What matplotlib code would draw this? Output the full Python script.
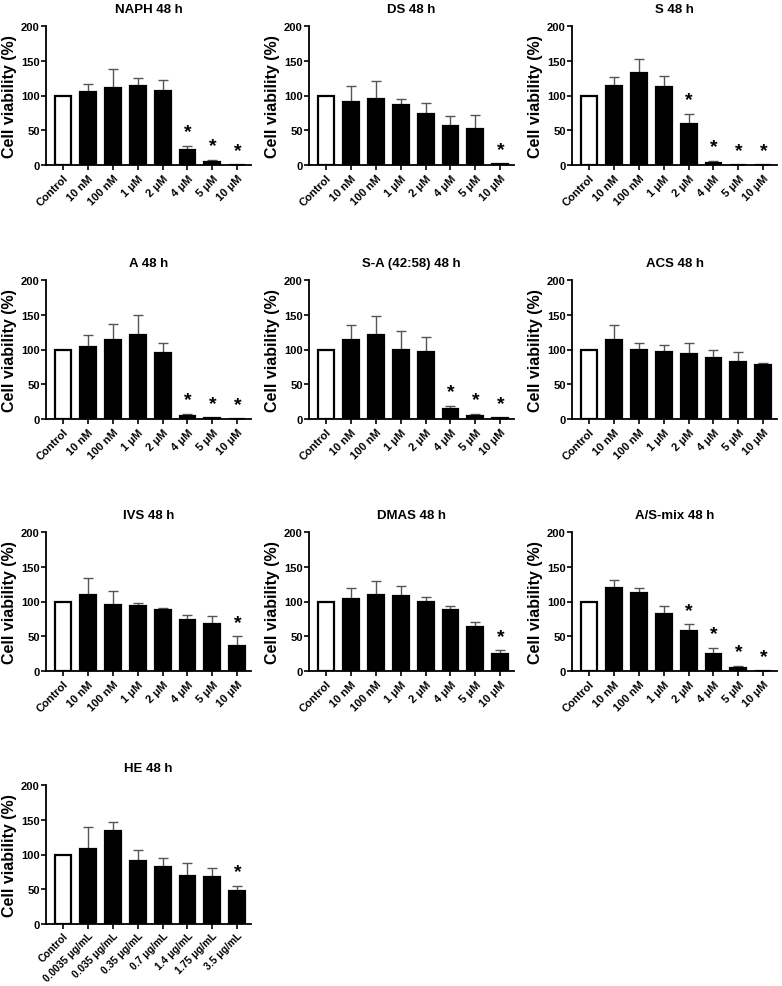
import numpy as np
import matplotlib
matplotlib.use('Agg')
import matplotlib.pyplot as plt

plt.rcParams['font.family'] = ['Liberation Sans', 'DejaVu Sans']
plt.rcParams['font.weight'] = 'bold'

# 농도 라벨
conc_labels = ['Control', '10 nM', '100 nM', '1 μM', '2 μM', '4 μM', '5 μM', '10 μM']
he_labels = ['Control', '0.0035 μg/mL', '0.035 μg/mL', '0.35 μg/mL', '0.7 μg/mL',
             '1.4 μg/mL', '1.75 μg/mL', '3.5 μg/mL']

titles = ['NAPH 48 h', 'DS 48 h', 'S 48 h', 'A 48 h', 'S-A (42:58) 48 h', 'ACS 48 h',
          'IVS 48 h', 'DMAS 48 h', 'A/S-mix 48 h', 'HE 48 h']

# 평균값 (%)
naph_mean = [100, 105, 111, 114, 106, 22, 5, 0]
ds_mean   = [100, 91, 95, 87, 74, 56, 52, 1]
s_mean    = [100, 113, 133, 112, 59, 2.5, 0, 0]
a_mean    = [100, 103, 113, 121, 95, 5, 1, 0]
sa_mean   = [100, 113, 121, 100, 97, 14, 4, 1]
acs_mean  = [100, 113, 99, 96, 93, 88, 82, 77]
ivs_mean  = [100, 109, 95, 94, 88, 74, 67, 36]
dmas_mean = [100, 104, 109, 108, 100, 88, 64, 25]
mix_mean  = [100, 119, 112, 82, 57, 25, 5, 0]
he_mean   = [100, 108, 134, 91, 82, 69, 67, 48]

# 오차막대 위쪽 끝값 (%)
naph_top = [100, 117, 138, 125, 123, 28, 7, 0]
ds_top   = [100, 114, 121, 95, 89, 70, 72, 1.5]
s_top    = [100, 127, 153, 128, 74, 6, 0, 0]
a_top    = [100, 121, 136, 150, 109, 7, 2, 0]
sa_top   = [100, 135, 148, 126, 118, 19, 7, 1.5]
acs_top  = [100, 135, 109, 107, 110, 99, 97, 81]
ivs_top  = [100, 134, 115, 98, 90, 81, 79, 50]
dmas_top = [100, 120, 129, 122, 106, 93, 70, 30]
mix_top  = [100, 131, 119, 94, 67, 33, 7, 0]
he_top   = [100, 139, 147, 107, 95, 88, 81, 55]

# 유의성 표시 (*) 인덱스
naph_star = [5, 6, 7]
ds_star   = [7]
s_star    = [4, 5, 6, 7]
a_star    = [5, 6, 7]
sa_star   = [5, 6, 7]
acs_star  = []
ivs_star  = [7]
dmas_star = [7]
mix_star  = [4, 5, 6, 7]
he_star   = [7]

means = [naph_mean, ds_mean, s_mean, a_mean, sa_mean, acs_mean, ivs_mean, dmas_mean, mix_mean, he_mean]
tops = [naph_top, ds_top, s_top, a_top, sa_top, acs_top, ivs_top, dmas_top, mix_top, he_top]
stars = [naph_star, ds_star, s_star, a_star, sa_star, acs_star, ivs_star, dmas_star, mix_star, he_star]

W, H = 782, 987
fig = plt.figure(figsize=(W / 100, H / 100), dpi=100)

col_left = [46, 309, 572]
row_top = [27, 281, 533, 786]
ax_w, ax_h = 205, 139

for i in range(10):
    r, c = divmod(i, 3)
    left = col_left[c]
    top = row_top[r]
    ax = fig.add_axes([left / W, 1 - (top + ax_h) / H, ax_w / W, ax_h / H])
    x = np.arange(8)
    m = np.array(means[i], dtype=float)
    t = np.array(tops[i], dtype=float)
    colors = ['white'] + ['black'] * 7
    ax.errorbar(x[1:], m[1:], yerr=[np.zeros(7), t[1:] - m[1:]], fmt='none',
                ecolor='#555555', elinewidth=1.0, capsize=3.5, capthick=1.0, zorder=1)
    ax.bar(x, m, width=0.64, color=colors, edgecolor='black', linewidth=1.6, zorder=2)
    for j in stars[i]:
        ax.text(x[j], t[j] + 8, '*', ha='center', va='bottom', fontsize=14,
                fontweight='bold', color='black')
    ax.set_xlim(-0.68, 7.55)
    ax.set_ylim(0, 200)
    ax.set_yticks([0, 50, 100, 150, 200])
    ax.set_xticks(x)
    if i == 9:
        ax.set_xticklabels(he_labels, rotation=45, ha='right', rotation_mode='anchor',
                           fontsize=7.4, fontweight='bold')
        ax.tick_params(axis='x', width=1.2, length=3.5, pad=1)
    else:
        ax.set_xticklabels(conc_labels, rotation=45, ha='right', rotation_mode='anchor',
                           fontsize=8, fontweight='bold')
        ax.tick_params(axis='x', width=1.2, length=3.5, pad=2)
    ax.tick_params(axis='y', labelsize=8, width=1.2, length=3.5, pad=1)
    for lab in ax.get_yticklabels():
        lab.set_fontweight('bold')
    ax.spines['top'].set_visible(False)
    ax.spines['right'].set_visible(False)
    ax.spines['left'].set_linewidth(1.3)
    ax.spines['bottom'].set_linewidth(1.3)
    ax.set_ylabel('Cell viability (%)', fontsize=11.5, fontweight='bold', labelpad=3)
    ax.set_title(titles[i], fontsize=9.5, fontweight='bold', pad=10)

fig.savefig('out.png', dpi=100)
